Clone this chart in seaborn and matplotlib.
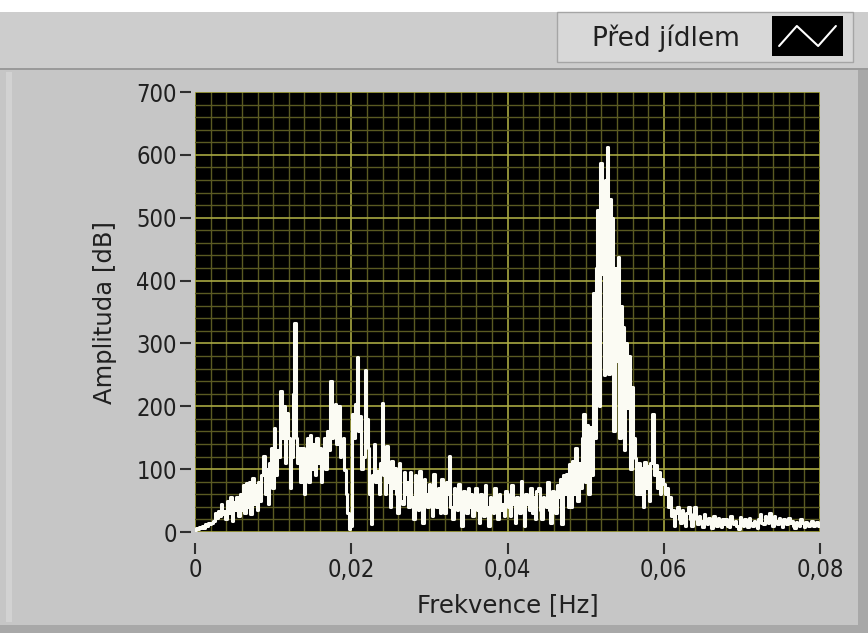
import numpy as np
import pandas as pd
import matplotlib
matplotlib.use("Agg")
import matplotlib.pyplot as plt
import seaborn as sns
from matplotlib.patches import Rectangle
from matplotlib.ticker import MultipleLocator, FixedLocator, FixedFormatter

# ---------------- data ----------------
freq_step = 0.0002
amplitude = [
    3, 6, 5, 8, 6, 10, 7, 12, 9, 14, 12, 15, 18, 30, 22, 34, 25, 44, 28, 34,
    20, 50, 30, 55, 17, 48, 35, 55, 25, 60, 35, 75, 30, 78, 40, 80, 28, 86, 45, 75,
    35, 80, 50, 90, 121, 60, 100, 45, 110, 134, 70, 166, 90, 130, 120, 225, 150, 201, 110, 190,
    150, 70, 120, 220, 332, 150, 110, 134, 80, 134, 60, 120, 150, 80, 155, 100, 140, 90, 150, 110,
    134, 80, 120, 150, 100, 160, 130, 240, 150, 175, 204, 140, 200, 120, 134, 150, 98, 60, 30, 5,
    10, 187, 150, 204, 278, 160, 185, 100, 120, 257, 180, 134, 60, 13, 90, 140, 80, 97, 60, 110,
    206, 90, 60, 137, 80, 40, 113, 70, 102, 60, 30, 110, 50, 45, 95, 60, 80, 40, 95, 55,
    20, 90, 50, 35, 97, 45, 15, 85, 60, 40, 77, 50, 25, 92, 55, 40, 70, 30, 85, 45,
    30, 80, 60, 121, 40, 20, 70, 50, 35, 77, 45, 10, 65, 50, 30, 70, 40, 60, 25, 55,
    70, 35, 15, 60, 45, 25, 75, 40, 10, 55, 45, 30, 70, 50, 20, 60, 35, 45, 25, 65,
    60, 40, 25, 75, 45, 15, 55, 50, 30, 81, 40, 10, 60, 45, 35, 70, 30, 55, 20, 65,
    70, 35, 20, 55, 45, 40, 80, 35, 15, 65, 50, 30, 75, 55, 85, 12, 90, 60, 93, 40,
    108, 40, 113, 60, 134, 50, 110, 70, 150, 188, 80, 170, 60, 167, 90, 380, 150, 420, 512, 200,
    587, 410, 250, 560, 613, 252, 530, 500, 160, 420, 272, 437, 150, 360, 326, 130, 300, 198, 280, 100,
    230, 150, 118, 60, 110, 60, 102, 40, 112, 70, 105, 50, 110, 188, 90, 107, 70, 95, 60, 85,
    76, 60, 70, 40, 55, 25, 35, 10, 30, 39, 20, 15, 35, 25, 10, 30, 39, 20, 10, 28,
    39, 20, 12, 25, 18, 8, 28, 15, 12, 22, 18, 6, 25, 15, 10, 22, 14, 8, 20, 12,
    20, 10, 8, 26, 15, 12, 18, 10, 5, 24, 14, 10, 20, 12, 8, 22, 15, 10, 17, 12,
    6, 20, 28, 15, 12, 25, 18, 15, 30, 20, 10, 26, 18, 12, 22, 15, 8, 20, 14, 12,
    22, 14, 18, 10, 6, 16, 12, 10, 20, 14, 8, 16, 12, 10, 14, 18, 10, 12, 16, 10,
    12,
]
frequency = [round(i * freq_step, 5) for i in range(len(amplitude))]

x_ticks = [0, 0.02, 0.04, 0.06, 0.08]
x_tick_labels = ["0", "0,02", "0,04", "0,06", "0,08"]
y_ticks = [0, 100, 200, 300, 400, 500, 600, 700]
y_tick_labels = ["0", "100", "200", "300", "400", "500", "600", "700"]
x_label = "Frekvence [Hz]"
y_label = "Amplituda [dB]"
legend_label = "Před jídlem"

df = pd.DataFrame({"f": frequency, "amp": amplitude})

# ---------------- style ----------------
sns.set_style("dark")
FONT = ["DejaVu Sans"]
plt.rcParams["font.family"] = FONT
plt.rcParams["font.stretch"] = "condensed"

W, H = 868, 633
fig = plt.figure(figsize=(W / 100, H / 100), dpi=100)
fig.patch.set_facecolor("#c6c6c6")

def frect(x0, y0, w, h, **kw):
    p = Rectangle((x0 / W, 1 - (y0 + h) / H), w / W, h / H,
                  transform=fig.transFigure, zorder=-5, **kw)
    fig.patches.append(p)

# top white strip and bars
frect(0, 0, W, 12, facecolor="white", edgecolor="none")
frect(0, 12, W, 56, facecolor="#cdcdcd", edgecolor="none")
frect(0, 68, W, 2, facecolor="#9a9a9a", edgecolor="none")
frect(6, 72, 6, 550, facecolor="#d2d2d2", edgecolor="none")
frect(858, 70, 10, H - 70, facecolor="#a8a8a8", edgecolor="none")
frect(0, 625, W, 8, facecolor="#a8a8a8", edgecolor="none")
# legend panel
frect(557, 12, 296, 50, facecolor="#d8d8d8", edgecolor="#a5a5a5", linewidth=1)
fig.text(592 / W, 1 - 38 / H, legend_label, fontsize=19, color="#202020",
         va="center", ha="left", fontstretch="normal")
lax = fig.add_axes([772 / W, 1 - 56 / H, 71 / W, 40 / H])
lax.set_zorder(5)
lax.set_facecolor("black")
lax.plot([0.1, 0.35, 0.65, 0.9], [0.25, 0.75, 0.25, 0.75], color="white", lw=1.5)
lax.set_xlim(0, 1)
lax.set_ylim(0, 1)
lax.set_xticks([])
lax.set_yticks([])
for s in lax.spines.values():
    s.set_visible(False)

# main plot
ax = fig.add_axes([195 / W, 1 - 532 / H, 625 / W, 440 / H])
ax.set_facecolor("black")
sns.lineplot(data=df, x="f", y="amp", ax=ax, color="#fbfbf3", linewidth=2.2,
             estimator=None, zorder=3, drawstyle="steps-mid")
ax.set_xlim(0, 0.08)
ax.set_ylim(0, 700)

ax.xaxis.set_major_locator(FixedLocator(x_ticks))
ax.xaxis.set_major_formatter(FixedFormatter(x_tick_labels))
ax.yaxis.set_major_locator(FixedLocator(y_ticks))
ax.yaxis.set_major_formatter(FixedFormatter(y_tick_labels))
ax.xaxis.set_minor_locator(MultipleLocator(0.002))
ax.yaxis.set_minor_locator(MultipleLocator(20))

ax.grid(which="minor", color="#5a5a22", linewidth=1.0)
ax.grid(which="major", color="#a8a842", linewidth=1.2)
ax.set_axisbelow(True)

for s in ax.spines.values():
    s.set_visible(False)
ax.spines["bottom"].set_position(("outward", 8))
ax.spines["left"].set_position(("outward", 3))

ax.tick_params(which="minor", length=0)
ax.tick_params(axis="x", which="major", direction="out", length=8, width=1.5,
               color="#303030", labelsize=17, labelcolor="#202020", pad=3,
               bottom=True)
ax.tick_params(axis="y", which="major", direction="out", length=8, width=1.5,
               color="#303030", labelsize=17, labelcolor="#202020", pad=2,
               left=True)

ax.set_xlabel(x_label, fontsize=17.5, color="#202020", labelpad=8,
              fontstretch="normal")
ax.set_ylabel(y_label, fontsize=17.5, color="#202020", labelpad=14,
              fontstretch="normal")

fig.savefig("out.png", dpi=100, facecolor=fig.get_facecolor())
